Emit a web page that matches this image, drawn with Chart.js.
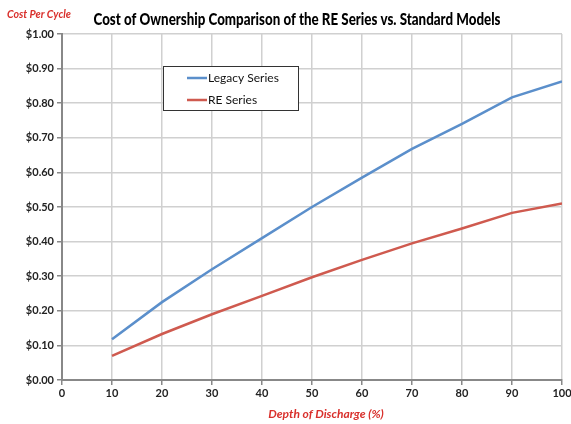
<!DOCTYPE html>
<html>
<head>
<meta charset="utf-8">
<script src="https://cdn.jsdelivr.net/npm/chart.js@4"></script>
<style>
  html, body { margin: 0; padding: 0; background: #fff; }
  #wrap { width: 571px; height: 424px; position: relative; }
</style>
</head>
<body>
<div id="wrap"><canvas id="costChart"></canvas></div>
<script>
// Werte
const depthOfDischarge = [10, 20, 30, 40, 50, 60, 70, 80, 90, 100];
const legacySeries = [0.118, 0.225, 0.320, 0.410, 0.500, 0.585, 0.668, 0.740, 0.817, 0.863];
const reSeries = [0.070, 0.133, 0.190, 0.243, 0.297, 0.347, 0.395, 0.438, 0.483, 0.510];
const seriesNames = ['Legacy Series', 'RE Series'];
const seriesColors = ['#5B8FCB', '#CF5A4F'];

const chartTitle = 'Cost of Ownership Comparison of the RE Series vs. Standard Models';
const yTitle = 'Cost Per Cycle';
const xTitle = 'Depth of Discharge (%)';

const FONT = 'Lato, "Open Sans", sans-serif';

// Text mittig zeichnen, horizontal auf Zielbreite gestaucht
function fitText(c, text, cx, cy, width) {
    const w = c.measureText(text).width;
    const sx = Math.min(1, width / w);
    c.save();
    c.translate(cx, cy);
    c.scale(sx, 1);
    c.textAlign = 'center';
    c.fillText(text, 0, 0);
    c.restore();
}

// Texte und Legende selbst zeichnen
const decorations = {
    id: 'decorations',
    afterDraw(chart) {
        const c = chart.ctx;
        c.save();
        c.textBaseline = 'middle';

        // Titel
        c.fillStyle = '#000';
        c.font = '900 17px ' + FONT;
        fitText(c, chartTitle, 297, 20, 407);

        // Y-Achsentitel
        c.fillStyle = '#D9302C';
        c.font = 'italic bold 12px ' + FONT;
        fitText(c, yTitle, 39, 14, 64);

        // X-Achsentitel
        fitText(c, xTitle, 326, 414, 118);

        // Legende mit Rahmen
        const bx = 163, by = 66, bw = 135, bh = 44;
        c.fillStyle = '#fff';
        c.fillRect(bx, by, bw, bh);
        c.strokeStyle = '#333';
        c.lineWidth = 1;
        c.strokeRect(bx + 0.5, by + 0.5, bw, bh);
        chart.data.datasets.forEach((ds, i) => {
            const ly = by + 12 + i * 22;
            c.strokeStyle = ds.borderColor;
            c.lineWidth = 2.5;
            c.beginPath();
            c.moveTo(bx + 24, ly);
            c.lineTo(bx + 44, ly);
            c.stroke();
            c.fillStyle = '#111';
            c.font = '12px ' + FONT;
            c.textAlign = 'left';
            c.fillText(ds.label, bx + 45, ly);
        });
        c.restore();
    }
};

function makeData(values) {
    return depthOfDischarge.map((x, i) => ({ x: x, y: values[i] }));
}

const config = {
    type: 'line',
    data: {
        datasets: [
            {
                label: seriesNames[0],
                data: makeData(legacySeries),
                borderColor: seriesColors[0],
                borderWidth: 2.5,
                pointRadius: 0,
                tension: 0
            },
            {
                label: seriesNames[1],
                data: makeData(reSeries),
                borderColor: seriesColors[1],
                borderWidth: 2.5,
                pointRadius: 0,
                tension: 0
            }
        ]
    },
    options: {
        responsive: true,
        maintainAspectRatio: false,
        animation: false,
        layout: { padding: { top: 34, right: 9, bottom: 0, left: 0 } },
        plugins: {
            legend: { display: false },
            title: { display: false },
            tooltip: { enabled: false }
        },
        scales: {
            x: {
                type: 'linear',
                min: 0,
                max: 100,
                ticks: {
                    stepSize: 10,
                    color: '#222',
                    font: { family: FONT, size: 11, weight: 'bold' },
                    padding: 2
                },
                grid: { color: '#D0D0D0', lineWidth: 1.5, tickLength: 5, tickColor: '#888' },
                border: { color: '#888', width: 2 },
                afterFit: s => { s.height = 44; s.paddingRight = 0; }
            },
            y: {
                min: 0,
                max: 1,
                ticks: {
                    stepSize: 0.1,
                    color: '#222',
                    font: { family: FONT, size: 11, weight: 'bold' },
                    padding: 3,
                    callback: v => '$' + Number(v).toFixed(2)
                },
                grid: { color: '#D0D0D0', lineWidth: 1.5, tickLength: 5, tickColor: '#888' },
                border: { color: '#888', width: 2 },
                afterFit: s => { s.width = 62; }
            }
        }
    },
    plugins: [decorations]
};

const costChart = new Chart(document.getElementById('costChart').getContext('2d'), config);
</script>
</body>
</html>
